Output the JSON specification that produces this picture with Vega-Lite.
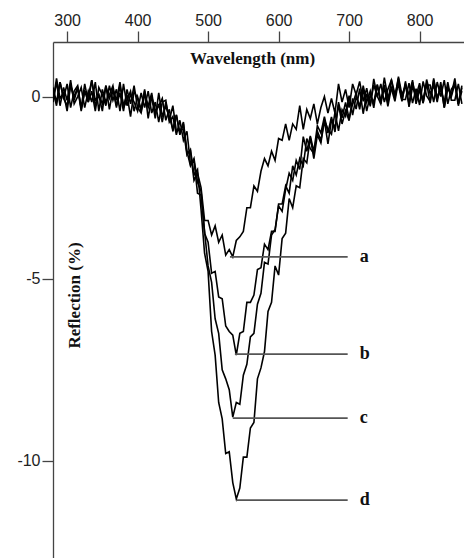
{
"$schema":"https://vega.github.io/schema/vega-lite/v6.json",
"width":411,"height":516,
"autosize":{"type":"none"},
"padding":{"left":53,"top":42,"right":0,"bottom":0},
"background":"white",
"config":{"view":{"stroke":null}},
"datasets":{
"spectra":[
{"s":"a","w":280,"r":0.25},{"s":"a","w":285,"r":-0.15},{"s":"a","w":290,"r":0.4},{"s":"a","w":295,"r":-0.05},{"s":"a","w":300,"r":0.35},{"s":"a","w":305,"r":-0.3},{"s":"a","w":310,"r":0.15},{"s":"a","w":315,"r":0.3},{"s":"a","w":320,"r":-0.35},{"s":"a","w":325,"r":0.15},
{"s":"a","w":330,"r":-0.15},{"s":"a","w":335,"r":0.45},{"s":"a","w":340,"r":-0.1},{"s":"a","w":345,"r":0.05},{"s":"a","w":350,"r":-0.4},{"s":"a","w":355,"r":0.3},{"s":"a","w":360,"r":-0.05},{"s":"a","w":365,"r":0.2},{"s":"a","w":370,"r":-0.3},{"s":"a","w":375,"r":0.3},
{"s":"a","w":380,"r":-0.25},{"s":"a","w":385,"r":0.05},{"s":"a","w":390,"r":-0.55},{"s":"a","w":395,"r":0.15},{"s":"a","w":400,"r":-0.05},{"s":"a","w":405,"r":-0.4},{"s":"a","w":410,"r":0.15},{"s":"a","w":415,"r":-0.3},{"s":"a","w":420,"r":0.0},{"s":"a","w":425,"r":-0.6},
{"s":"a","w":430,"r":0.1},{"s":"a","w":435,"r":-0.55},{"s":"a","w":440,"r":-0.25},{"s":"a","w":445,"r":-0.55},{"s":"a","w":450,"r":-0.9},{"s":"a","w":455,"r":-0.5},{"s":"a","w":460,"r":-1.05},{"s":"a","w":465,"r":-0.75},{"s":"a","w":470,"r":-1.55},{"s":"a","w":475,"r":-1.5},
{"s":"a","w":480,"r":-2.3},{"s":"a","w":485,"r":-2.1},{"s":"a","w":490,"r":-2.5},{"s":"a","w":495,"r":-3.4},{"s":"a","w":500,"r":-3.4},{"s":"a","w":505,"r":-3.8},{"s":"a","w":510,"r":-3.55},{"s":"a","w":515,"r":-4.0},{"s":"a","w":520,"r":-3.8},{"s":"a","w":525,"r":-4.35},
{"s":"a","w":530,"r":-4.2},{"s":"a","w":535,"r":-4.4},{"s":"a","w":540,"r":-3.95},{"s":"a","w":545,"r":-3.85},{"s":"a","w":550,"r":-3.7},{"s":"a","w":555,"r":-3.05},{"s":"a","w":560,"r":-3.05},{"s":"a","w":565,"r":-2.45},{"s":"a","w":570,"r":-2.6},{"s":"a","w":575,"r":-2.05},
{"s":"a","w":580,"r":-1.7},{"s":"a","w":585,"r":-1.9},{"s":"a","w":590,"r":-1.5},{"s":"a","w":595,"r":-1.75},{"s":"a","w":600,"r":-1.15},{"s":"a","w":605,"r":-1.2},{"s":"a","w":610,"r":-0.75},{"s":"a","w":615,"r":-1.2},{"s":"a","w":620,"r":-0.75},{"s":"a","w":625,"r":-0.9},
{"s":"a","w":630,"r":-0.25},{"s":"a","w":635,"r":-0.9},{"s":"a","w":640,"r":-0.35},{"s":"a","w":645,"r":-0.6},{"s":"a","w":650,"r":-0.2},{"s":"a","w":655,"r":-0.75},{"s":"a","w":660,"r":-0.3},{"s":"a","w":665,"r":0.0},{"s":"a","w":670,"r":-0.45},{"s":"a","w":675,"r":-0.05},
{"s":"a","w":680,"r":-0.45},{"s":"a","w":685,"r":0.35},{"s":"a","w":690,"r":-0.15},{"s":"a","w":695,"r":0.2},{"s":"a","w":700,"r":-0.3},{"s":"a","w":705,"r":0.35},{"s":"a","w":710,"r":0.05},{"s":"a","w":715,"r":0.42},{"s":"a","w":720,"r":-0.13},{"s":"a","w":725,"r":0.23},
{"s":"a","w":730,"r":-0.27},{"s":"a","w":735,"r":0.49},{"s":"a","w":740,"r":-0.01},{"s":"a","w":745,"r":0.35},{"s":"a","w":750,"r":-0.15},{"s":"a","w":755,"r":0.2},{"s":"a","w":760,"r":0.45},{"s":"a","w":765,"r":-0.05},{"s":"a","w":770,"r":0.55},{"s":"a","w":775,"r":0.05},
{"s":"a","w":780,"r":0.3},{"s":"a","w":785,"r":-0.2},{"s":"a","w":790,"r":0.4},{"s":"a","w":795,"r":-0.05},{"s":"a","w":800,"r":0.22},{"s":"a","w":805,"r":-0.18},{"s":"a","w":810,"r":0.47},{"s":"a","w":815,"r":0.07},{"s":"a","w":820,"r":0.3},{"s":"a","w":825,"r":-0.15},
{"s":"a","w":830,"r":0.4},{"s":"a","w":835,"r":-0.3},{"s":"a","w":840,"r":0.25},{"s":"a","w":845,"r":0.0},{"s":"a","w":850,"r":0.35},{"s":"a","w":855,"r":-0.2},{"s":"a","w":860,"r":0.3},
{"s":"b","w":280,"r":0.15},{"s":"b","w":285,"r":-0.25},{"s":"b","w":290,"r":0.4},{"s":"b","w":295,"r":-0.05},{"s":"b","w":300,"r":-0.25},{"s":"b","w":305,"r":0.35},{"s":"b","w":310,"r":-0.1},{"s":"b","w":315,"r":0.25},{"s":"b","w":320,"r":-0.4},{"s":"b","w":325,"r":0.15},
{"s":"b","w":330,"r":0.0},{"s":"b","w":335,"r":0.45},{"s":"b","w":340,"r":-0.25},{"s":"b","w":345,"r":0.05},{"s":"b","w":350,"r":-0.2},{"s":"b","w":355,"r":0.3},{"s":"b","w":360,"r":-0.35},{"s":"b","w":365,"r":0.2},{"s":"b","w":370,"r":-0.1},{"s":"b","w":375,"r":0.4},
{"s":"b","w":380,"r":-0.3},{"s":"b","w":385,"r":-0.1},{"s":"b","w":390,"r":0.15},{"s":"b","w":395,"r":-0.4},{"s":"b","w":400,"r":0.0},{"s":"b","w":405,"r":-0.35},{"s":"b","w":410,"r":0.2},{"s":"b","w":415,"r":-0.6},{"s":"b","w":420,"r":0.0},{"s":"b","w":425,"r":-0.4},
{"s":"b","w":430,"r":-0.25},{"s":"b","w":435,"r":-0.05},{"s":"b","w":440,"r":-0.65},{"s":"b","w":445,"r":-0.35},{"s":"b","w":450,"r":-0.95},{"s":"b","w":455,"r":-0.5},{"s":"b","w":460,"r":-1.0},{"s":"b","w":465,"r":-0.7},{"s":"b","w":470,"r":-1.5},{"s":"b","w":475,"r":-1.9},
{"s":"b","w":480,"r":-1.7},{"s":"b","w":485,"r":-2.35},{"s":"b","w":490,"r":-2.6},{"s":"b","w":495,"r":-3.75},{"s":"b","w":500,"r":-4.0},{"s":"b","w":505,"r":-4.85},{"s":"b","w":510,"r":-4.8},{"s":"b","w":515,"r":-5.5},{"s":"b","w":520,"r":-5.55},{"s":"b","w":525,"r":-6.3},
{"s":"b","w":530,"r":-6.45},{"s":"b","w":535,"r":-6.55},{"s":"b","w":540,"r":-7.1},{"s":"b","w":545,"r":-6.5},{"s":"b","w":550,"r":-6.45},{"s":"b","w":555,"r":-5.65},{"s":"b","w":560,"r":-5.65},{"s":"b","w":565,"r":-5.45},{"s":"b","w":570,"r":-4.75},{"s":"b","w":575,"r":-4.7},
{"s":"b","w":580,"r":-4.05},{"s":"b","w":585,"r":-4.2},{"s":"b","w":590,"r":-3.7},{"s":"b","w":595,"r":-3.7},{"s":"b","w":600,"r":-2.95},{"s":"b","w":605,"r":-2.95},{"s":"b","w":610,"r":-2.45},{"s":"b","w":615,"r":-2.65},{"s":"b","w":620,"r":-1.9},{"s":"b","w":625,"r":-2.15},
{"s":"b","w":630,"r":-1.7},{"s":"b","w":635,"r":-1.9},{"s":"b","w":640,"r":-1.15},{"s":"b","w":645,"r":-1.43},{"s":"b","w":650,"r":-1.56},{"s":"b","w":655,"r":-0.95},{"s":"b","w":660,"r":-1.2},{"s":"b","w":665,"r":-0.65},{"s":"b","w":670,"r":-1.3},{"s":"b","w":675,"r":-0.65},
{"s":"b","w":680,"r":-0.85},{"s":"b","w":685,"r":-0.22},{"s":"b","w":690,"r":-0.75},{"s":"b","w":695,"r":-0.38},{"s":"b","w":700,"r":-0.66},{"s":"b","w":705,"r":-0.05},{"s":"b","w":710,"r":-0.34},{"s":"b","w":715,"r":0.22},{"s":"b","w":720,"r":-0.47},{"s":"b","w":725,"r":0.08},
{"s":"b","w":730,"r":-0.22},{"s":"b","w":735,"r":0.32},{"s":"b","w":740,"r":0.01},{"s":"b","w":745,"r":-0.2},{"s":"b","w":750,"r":0.32},{"s":"b","w":755,"r":-0.27},{"s":"b","w":760,"r":0.24},{"s":"b","w":765,"r":0.0},{"s":"b","w":770,"r":0.5},{"s":"b","w":775,"r":-0.1},
{"s":"b","w":780,"r":0.35},{"s":"b","w":785,"r":0.05},{"s":"b","w":790,"r":0.45},{"s":"b","w":795,"r":-0.2},{"s":"b","w":800,"r":0.17},{"s":"b","w":805,"r":-0.08},{"s":"b","w":810,"r":0.37},{"s":"b","w":815,"r":-0.18},{"s":"b","w":820,"r":0.5},{"s":"b","w":825,"r":-0.05},
{"s":"b","w":830,"r":0.2},{"s":"b","w":835,"r":-0.15},{"s":"b","w":840,"r":0.4},{"s":"b","w":845,"r":-0.1},{"s":"b","w":850,"r":-0.1},{"s":"b","w":855,"r":0.35},{"s":"b","w":860,"r":-0.2},
{"s":"c","w":280,"r":-0.15},{"s":"c","w":285,"r":0.5},{"s":"c","w":290,"r":-0.05},{"s":"c","w":295,"r":0.1},{"s":"c","w":300,"r":-0.4},{"s":"c","w":305,"r":0.3},{"s":"c","w":310,"r":0.0},{"s":"c","w":315,"r":0.25},{"s":"c","w":320,"r":-0.3},{"s":"c","w":325,"r":0.35},
{"s":"c","w":330,"r":-0.15},{"s":"c","w":335,"r":0.15},{"s":"c","w":340,"r":-0.4},{"s":"c","w":345,"r":0.25},{"s":"c","w":350,"r":0.05},{"s":"c","w":355,"r":-0.25},{"s":"c","w":360,"r":0.3},{"s":"c","w":365,"r":-0.1},{"s":"c","w":370,"r":0.2},{"s":"c","w":375,"r":-0.4},
{"s":"c","w":380,"r":0.35},{"s":"c","w":385,"r":-0.25},{"s":"c","w":390,"r":0.05},{"s":"c","w":395,"r":-0.15},{"s":"c","w":400,"r":-0.4},{"s":"c","w":405,"r":0.1},{"s":"c","w":410,"r":-0.3},{"s":"c","w":415,"r":0.15},{"s":"c","w":420,"r":-0.45},{"s":"c","w":425,"r":-0.15},
{"s":"c","w":430,"r":-0.7},{"s":"c","w":435,"r":-0.15},{"s":"c","w":440,"r":-0.1},{"s":"c","w":445,"r":-0.7},{"s":"c","w":450,"r":-0.55},{"s":"c","w":455,"r":-1.05},{"s":"c","w":460,"r":-0.65},{"s":"c","w":465,"r":-1.2},{"s":"c","w":470,"r":-0.95},{"s":"c","w":475,"r":-1.85},
{"s":"c","w":480,"r":-1.75},{"s":"c","w":485,"r":-2.65},{"s":"c","w":490,"r":-2.7},{"s":"c","w":495,"r":-3.7},{"s":"c","w":500,"r":-4.65},{"s":"c","w":505,"r":-5.1},{"s":"c","w":510,"r":-6.1},{"s":"c","w":515,"r":-6.5},{"s":"c","w":520,"r":-7.5},{"s":"c","w":525,"r":-7.75},
{"s":"c","w":530,"r":-8.05},{"s":"c","w":535,"r":-8.8},{"s":"c","w":540,"r":-8.4},{"s":"c","w":545,"r":-8.45},{"s":"c","w":550,"r":-7.65},{"s":"c","w":555,"r":-7.35},{"s":"c","w":560,"r":-6.6},{"s":"c","w":565,"r":-6.5},{"s":"c","w":570,"r":-5.7},{"s":"c","w":575,"r":-5.4},
{"s":"c","w":580,"r":-4.55},{"s":"c","w":585,"r":-4.6},{"s":"c","w":590,"r":-3.8},{"s":"c","w":595,"r":-3.65},{"s":"c","w":600,"r":-3.0},{"s":"c","w":605,"r":-3.15},{"s":"c","w":610,"r":-2.55},{"s":"c","w":615,"r":-2.1},{"s":"c","w":620,"r":-2.3},{"s":"c","w":625,"r":-1.75},
{"s":"c","w":630,"r":-2.0},{"s":"c","w":635,"r":-1.1},{"s":"c","w":640,"r":-1.5},{"s":"c","w":645,"r":-1.08},{"s":"c","w":650,"r":-1.51},{"s":"c","w":655,"r":-0.8},{"s":"c","w":660,"r":-1.0},{"s":"c","w":665,"r":-0.55},{"s":"c","w":670,"r":-1.0},{"s":"c","w":675,"r":-0.56},
{"s":"c","w":680,"r":-0.97},{"s":"c","w":685,"r":-0.15},{"s":"c","w":690,"r":-0.58},{"s":"c","w":695,"r":-0.16},{"s":"c","w":700,"r":-0.6},{"s":"c","w":705,"r":-0.2},{"s":"c","w":710,"r":0.1},{"s":"c","w":715,"r":-0.35},{"s":"c","w":720,"r":0.3},{"s":"c","w":725,"r":-0.15},
{"s":"c","w":730,"r":0.15},{"s":"c","w":735,"r":-0.31},{"s":"c","w":740,"r":0.33},{"s":"c","w":745,"r":-0.1},{"s":"c","w":750,"r":0.22},{"s":"c","w":755,"r":-0.18},{"s":"c","w":760,"r":0.47},{"s":"c","w":765,"r":0.07},{"s":"c","w":770,"r":0.32},{"s":"c","w":775,"r":-0.13},
{"s":"c","w":780,"r":0.42},{"s":"c","w":785,"r":-0.28},{"s":"c","w":790,"r":0.27},{"s":"c","w":795,"r":0.02},{"s":"c","w":800,"r":0.37},{"s":"c","w":805,"r":-0.18},{"s":"c","w":810,"r":0.32},{"s":"c","w":815,"r":0.32},{"s":"c","w":820,"r":-0.15},{"s":"c","w":825,"r":0.4},
{"s":"c","w":830,"r":0.0},{"s":"c","w":835,"r":0.45},{"s":"c","w":840,"r":-0.2},{"s":"c","w":845,"r":0.2},{"s":"c","w":850,"r":0.35},{"s":"c","w":855,"r":-0.25},{"s":"c","w":860,"r":0.25},
{"s":"d","w":280,"r":-0.15},{"s":"d","w":285,"r":0.4},{"s":"d","w":290,"r":-0.25},{"s":"d","w":295,"r":0.25},{"s":"d","w":300,"r":-0.1},{"s":"d","w":305,"r":0.45},{"s":"d","w":310,"r":-0.2},{"s":"d","w":315,"r":0.0},{"s":"d","w":320,"r":0.25},{"s":"d","w":325,"r":-0.3},
{"s":"d","w":330,"r":0.15},{"s":"d","w":335,"r":-0.15},{"s":"d","w":340,"r":0.4},{"s":"d","w":345,"r":-0.4},{"s":"d","w":350,"r":0.2},{"s":"d","w":355,"r":-0.15},{"s":"d","w":360,"r":0.05},{"s":"d","w":365,"r":0.3},{"s":"d","w":370,"r":-0.25},{"s":"d","w":375,"r":0.1},
{"s":"d","w":380,"r":-0.4},{"s":"d","w":385,"r":0.2},{"s":"d","w":390,"r":-0.2},{"s":"d","w":395,"r":0.3},{"s":"d","w":400,"r":-0.3},{"s":"d","w":405,"r":-0.45},{"s":"d","w":410,"r":0.05},{"s":"d","w":415,"r":-0.25},{"s":"d","w":420,"r":0.1},{"s":"d","w":425,"r":-0.5},
{"s":"d","w":430,"r":-0.2},{"s":"d","w":435,"r":-0.7},{"s":"d","w":440,"r":-0.15},{"s":"d","w":445,"r":-0.65},{"s":"d","w":450,"r":-0.25},{"s":"d","w":455,"r":-0.95},{"s":"d","w":460,"r":-0.9},{"s":"d","w":465,"r":-0.9},{"s":"d","w":470,"r":-1.6},{"s":"d","w":475,"r":-1.45},
{"s":"d","w":480,"r":-2.15},{"s":"d","w":485,"r":-2.0},{"s":"d","w":490,"r":-3.1},{"s":"d","w":495,"r":-4.3},{"s":"d","w":500,"r":-4.8},{"s":"d","w":505,"r":-6.45},{"s":"d","w":510,"r":-7.1},{"s":"d","w":515,"r":-8.4},{"s":"d","w":520,"r":-8.85},{"s":"d","w":525,"r":-9.8},
{"s":"d","w":530,"r":-9.75},{"s":"d","w":535,"r":-10.6},{"s":"d","w":540,"r":-11.05},{"s":"d","w":545,"r":-10.75},{"s":"d","w":550,"r":-9.9},{"s":"d","w":555,"r":-9.9},{"s":"d","w":560,"r":-9.1},{"s":"d","w":565,"r":-8.95},{"s":"d","w":570,"r":-7.75},{"s":"d","w":575,"r":-7.45},
{"s":"d","w":580,"r":-7.0},{"s":"d","w":585,"r":-5.9},{"s":"d","w":590,"r":-5.65},{"s":"d","w":595,"r":-4.65},{"s":"d","w":600,"r":-4.9},{"s":"d","w":605,"r":-3.9},{"s":"d","w":610,"r":-3.75},{"s":"d","w":615,"r":-2.8},{"s":"d","w":620,"r":-3.05},{"s":"d","w":625,"r":-2.45},
{"s":"d","w":630,"r":-2.5},{"s":"d","w":635,"r":-1.7},{"s":"d","w":640,"r":-1.82},{"s":"d","w":645,"r":-1.12},{"s":"d","w":650,"r":-1.7},{"s":"d","w":655,"r":-1.05},{"s":"d","w":660,"r":-1.27},{"s":"d","w":665,"r":-0.65},{"s":"d","w":670,"r":-0.89},{"s":"d","w":675,"r":-1.03},
{"s":"d","w":680,"r":-0.43},{"s":"d","w":685,"r":-0.94},{"s":"d","w":690,"r":-0.36},{"s":"d","w":695,"r":-0.54},{"s":"d","w":700,"r":0.03},{"s":"d","w":705,"r":-0.51},{"s":"d","w":710,"r":0.0},{"s":"d","w":715,"r":-0.25},{"s":"d","w":720,"r":0.2},{"s":"d","w":725,"r":-0.4},
{"s":"d","w":730,"r":0.05},{"s":"d","w":735,"r":-0.16},{"s":"d","w":740,"r":0.33},{"s":"d","w":745,"r":-0.2},{"s":"d","w":750,"r":0.52},{"s":"d","w":755,"r":-0.03},{"s":"d","w":760,"r":0.22},{"s":"d","w":765,"r":-0.13},{"s":"d","w":770,"r":0.42},{"s":"d","w":775,"r":-0.08},
{"s":"d","w":780,"r":-0.08},{"s":"d","w":785,"r":0.37},{"s":"d","w":790,"r":-0.18},{"s":"d","w":795,"r":0.22},{"s":"d","w":800,"r":-0.23},{"s":"d","w":805,"r":0.42},{"s":"d","w":810,"r":0.02},{"s":"d","w":815,"r":-0.13},{"s":"d","w":820,"r":0.45},{"s":"d","w":825,"r":-0.05},
{"s":"d","w":830,"r":0.3},{"s":"d","w":835,"r":-0.3},{"s":"d","w":840,"r":0.25},{"s":"d","w":845,"r":0.05},{"s":"d","w":850,"r":0.5},{"s":"d","w":855,"r":-0.2},{"s":"d","w":860,"r":0.15}
],
"labels":[
{"lab":"a","x1":531,"x2":698,"y":-4.4},
{"lab":"b","x1":538,"x2":698,"y":-7.07},
{"lab":"c","x1":535,"x2":698,"y":-8.83},
{"lab":"d","x1":541,"x2":698,"y":-11.08}
]
},
"layer":[
{"data":{"name":"spectra"},
"mark":{"type":"line","color":"black","strokeWidth":1.6,"strokeJoin":"miter","clip":true},
"encoding":{
"x":{"field":"w","type":"quantitative","scale":{"domain":[280,863],"nice":false,"zero":false},
"axis":{"orient":"top","values":[300,400,500,600,700,800],"grid":false,"title":"Wavelength (nm)",
"titleFont":"Liberation Serif","titleFontWeight":"bold","titleFontSize":17,"titleColor":"#111",
"titleX":199,"titleY":16,"titleAlign":"center","titleBaseline":"middle","titleAngle":0,
"labelFont":"Liberation Sans","labelFontSize":16,"labelColor":"#222","labelPadding":3,
"tickSize":11,"tickColor":"#444","tickWidth":1.3,"domainColor":"#444","domainWidth":1.3}},
"y":{"field":"r","type":"quantitative","scale":{"domain":[-12.67,1.5],"nice":false,"zero":false},
"axis":{"orient":"left","values":[0,-5,-10],"grid":false,"title":"Reflection (%)",
"labelExpr":"'' + datum.value",
"titleFont":"Liberation Serif","titleFontWeight":"bold","titleFontSize":17,"titleColor":"#111",
"titleX":21,"titleY":253,"titleAlign":"center","titleBaseline":"middle","titleAngle":-90,
"labelFont":"Liberation Sans","labelFontSize":16,"labelColor":"#222","labelPadding":2,
"tickSize":11,"tickColor":"#444","tickWidth":1.3,"domainColor":"#444","domainWidth":1.3}},
"detail":{"field":"s"}}},
{"data":{"name":"labels"},
"mark":{"type":"rule","color":"#555","strokeWidth":1.6},
"encoding":{"x":{"field":"x1","type":"quantitative"},"x2":{"field":"x2"},"y":{"field":"y","type":"quantitative"}}},
{"data":{"name":"labels"},
"mark":{"type":"text","font":"Liberation Serif","fontWeight":"bold","fontSize":18,"align":"left","baseline":"middle","dx":12,"color":"#111"},
"encoding":{"x":{"field":"x2","type":"quantitative"},"y":{"field":"y","type":"quantitative"},"text":{"field":"lab"}}}
]
}
